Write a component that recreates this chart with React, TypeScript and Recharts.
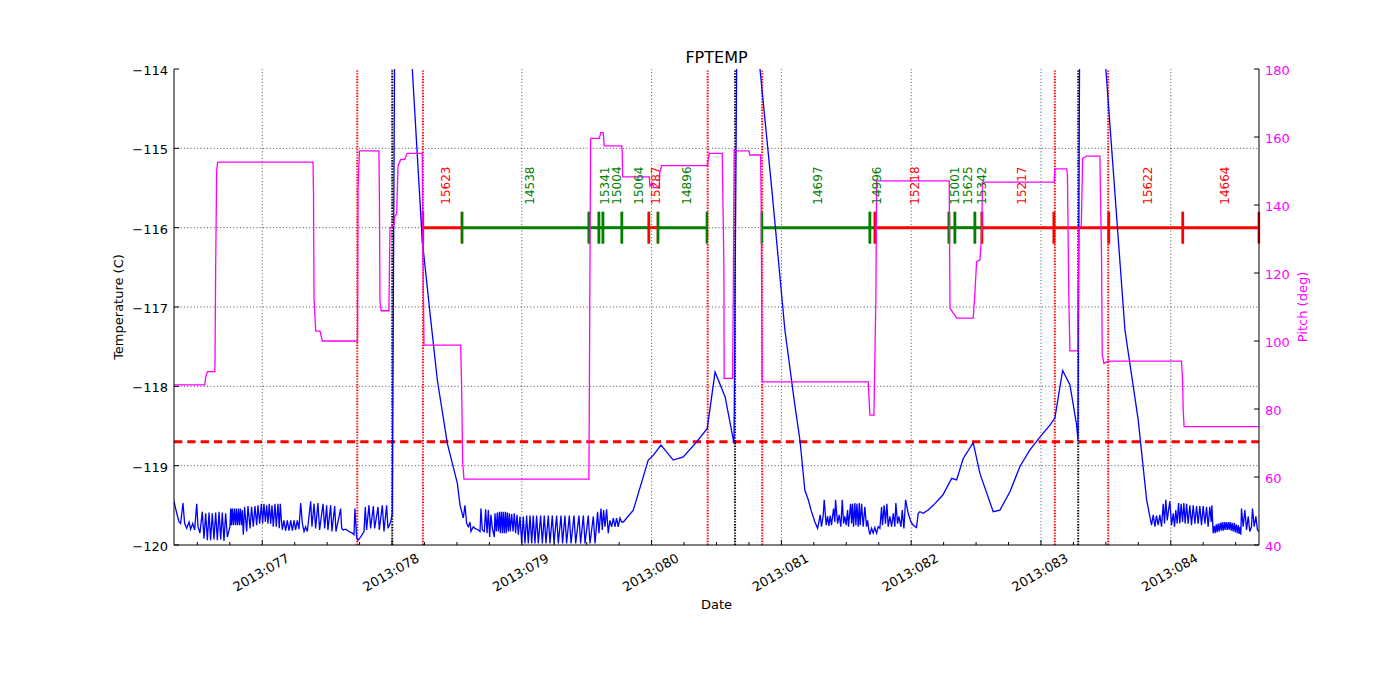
import { ComposedChart, Line, ReferenceLine, Scatter, XAxis, YAxis } from 'recharts';

const FONT = 'DejaVu Sans, sans-serif';
const BLUE = '#0000ff';
const MAGENTA = '#ff00ff';
const RED = '#ff0000';
const GREEN = '#008000';

const DAY_MIN = 76.32;
const DAY_MAX = 84.68;
const dayTicks = [77, 78, 79, 80, 81, 82, 83, 84];
const quarterTicks = [
  76.5, 76.75, 77, 77.25, 77.5, 77.75, 78, 78.25, 78.5, 78.75, 79, 79.25, 79.5, 79.75, 80, 80.25, 80.5,
  80.75, 81, 81.25, 81.5, 81.75, 82, 82.25, 82.5, 82.75, 83, 83.25, 83.5, 83.75, 84, 84.25, 84.5,
];
const tempTicks = [-120, -119, -118, -117, -116, -115, -114];
const pitchTicks = [40, 60, 80, 100, 120, 140, 160, 180];

const TEMP_LIMIT = -118.7;
const BAR_LEVEL = -116;
const BAR_TICK_HALF = 0.2;
const LABEL_BASE = -115.71;

// red dotted = observation boundaries, black dotted = safing events
const redEvents = [77.732, 78.238, 80.432, 80.852, 83.107, 83.518];
const blackEvents = [78.002, 80.643, 83.287];

// [start day, end day, 'r' | 'g']
const obsSegments: [number, number, string][] = [
  [78.238, 78.539, 'r'],
  [78.539, 79.517, 'g'],
  [79.517, 79.594, 'g'],
  [79.594, 79.625, 'g'],
  [79.625, 79.771, 'g'],
  [79.771, 79.979, 'g'],
  [79.979, 80.049, 'r'],
  [80.049, 80.426, 'g'],
  [80.85, 81.682, 'g'],
  [81.682, 81.721, 'g'],
  [81.721, 82.291, 'r'],
  [82.291, 82.337, 'g'],
  [82.337, 82.491, 'g'],
  [82.491, 82.545, 'g'],
  [82.545, 83.1, 'r'],
  [83.1, 83.523, 'r'],
  [83.523, 84.093, 'r'],
  [84.093, 84.679, 'r'],
];

// [label day, obsid, 'r' | 'g']
const obsLabels: [number, string, string][] = [
  [78.416, '15623', 'r'],
  [79.063, '14538', 'g'],
  [79.64, '15341', 'g'],
  [79.733, '15004', 'g'],
  [79.902, '15064', 'g'],
  [80.033, '15287', 'r'],
  [80.272, '14896', 'g'],
  [81.281, '14697', 'g'],
  [81.736, '14996', 'g'],
  [82.029, '15218', 'r'],
  [82.337, '15001', 'g'],
  [82.437, '15625', 'g'],
  [82.543, '15342', 'g'],
  [82.851, '15217', 'r'],
  [83.824, '15622', 'r'],
  [84.417, '14664', 'r'],
];

// FPTEMP [day, degC]
const tempPoints: [number, number][] = [
  [76.32, -119.45], [76.341, -119.6], [76.359, -119.71], [76.371, -119.73], [76.389, -119.47], [76.402, -119.73],
  [76.418, -119.79], [76.436, -119.71], [76.448, -119.8], [76.464, -119.73], [76.479, -119.81], [76.495, -119.48],
  [76.505, -119.77], [76.52, -119.85], [76.538, -119.58], [76.551, -119.92], [76.564, -119.6], [76.577, -119.94],
  [76.59, -119.59], [76.602, -119.94], [76.615, -119.6], [76.628, -119.93], [76.641, -119.59], [76.654, -119.94],
  [76.667, -119.58], [76.68, -119.93], [76.692, -119.59], [76.705, -119.95], [76.718, -119.6], [76.731, -119.9],
  [76.751, -119.77], [76.757, -119.54], [76.762, -119.75], [76.769, -119.54], [76.777, -119.75], [76.785, -119.54],
  [76.793, -119.75], [76.8, -119.54], [76.808, -119.75], [76.816, -119.54], [76.823, -119.75], [76.831, -119.54],
  [76.839, -119.75], [76.846, -119.56], [76.854, -119.87], [76.864, -119.52], [76.88, -119.83], [76.89, -119.51],
  [76.906, -119.79], [76.918, -119.52], [76.931, -119.77], [76.944, -119.51], [76.957, -119.75], [76.967, -119.5],
  [76.98, -119.73], [76.993, -119.48], [77.003, -119.73], [77.013, -119.48], [77.024, -119.71], [77.034, -119.5],
  [77.044, -119.73], [77.054, -119.48], [77.065, -119.73], [77.075, -119.5], [77.085, -119.77], [77.098, -119.48],
  [77.108, -119.77], [77.121, -119.48], [77.131, -119.79], [77.139, -119.48], [77.147, -119.68], [77.155, -119.81],
  [77.167, -119.69], [77.18, -119.82], [77.193, -119.69], [77.206, -119.82], [77.219, -119.69], [77.232, -119.82],
  [77.245, -119.69], [77.257, -119.81], [77.27, -119.69], [77.283, -119.8], [77.296, -119.47], [77.309, -119.73],
  [77.322, -119.83], [77.334, -119.77], [77.347, -119.83], [77.373, -119.45], [77.383, -119.77], [77.399, -119.48],
  [77.411, -119.79], [77.429, -119.47], [77.442, -119.81], [77.468, -119.48], [77.481, -119.79], [77.496, -119.5],
  [77.506, -119.81], [77.527, -119.5], [77.537, -119.83], [77.558, -119.51], [77.568, -119.83], [77.604, -119.54],
  [77.612, -119.79], [77.622, -119.81], [77.643, -119.8], [77.668, -119.83], [77.694, -119.85], [77.707, -119.87],
  [77.714, -119.54], [77.727, -119.9], [77.738, -119.94], [77.758, -119.9], [77.784, -119.83], [77.794, -119.52],
  [77.804, -119.81], [77.822, -119.5], [77.835, -119.79], [77.856, -119.51], [77.866, -119.79], [77.892, -119.52],
  [77.902, -119.81], [77.925, -119.5], [77.938, -119.83], [77.958, -119.5], [77.969, -119.79], [77.989, -119.71],
  // first safe mode spike
  [78.002, -119.6], [78.019, -114.0], [78.09, -112.5], [78.156, -114.0], [78.233, -116.16], [78.298, -117.16],
  [78.349, -117.92], [78.426, -118.72], [78.503, -119.22], [78.524, -119.5], [78.549, -119.66],
  [78.562, -119.5], [78.575, -119.73], [78.588, -119.77], [78.601, -119.71], [78.608, -119.83], [78.626, -119.77],
  [78.639, -119.79], [78.665, -119.81], [78.678, -119.83], [78.685, -119.54], [78.696, -119.81], [78.711, -119.83],
  [78.721, -119.55], [78.732, -119.85], [78.742, -119.56], [78.752, -119.9], [78.762, -119.62], [78.773, -119.79],
  [78.788, -119.9], [78.793, -119.6], [78.803, -119.83], [78.811, -119.59], [78.819, -119.83], [78.827, -119.58],
  [78.834, -119.85], [78.842, -119.58], [78.85, -119.85], [78.857, -119.58], [78.865, -119.85], [78.873, -119.58],
  [78.88, -119.85], [78.888, -119.59], [78.896, -119.83], [78.904, -119.6], [78.911, -119.83], [78.922, -119.61],
  [78.932, -119.83], [78.942, -119.6], [78.952, -119.85], [78.963, -119.62], [78.973, -119.87], [78.986, -119.64],
  [78.999, -119.98], [79.011, -119.64], [79.024, -119.98], [79.037, -119.63], [79.05, -119.98], [79.063, -119.63],
  [79.076, -119.98], [79.088, -119.63], [79.101, -119.98], [79.114, -119.63], [79.127, -119.98], [79.145, -119.63],
  [79.158, -119.98], [79.173, -119.63], [79.186, -119.98], [79.204, -119.63], [79.217, -119.98], [79.235, -119.63],
  [79.248, -119.98], [79.268, -119.63], [79.281, -119.98], [79.302, -119.63], [79.314, -119.98], [79.332, -119.63],
  [79.345, -119.98], [79.366, -119.63], [79.379, -119.98], [79.402, -119.63], [79.415, -119.98], [79.44, -119.63],
  [79.453, -119.98], [79.474, -119.63], [79.487, -119.98], [79.512, -119.63], [79.525, -119.98], [79.551, -119.64],
  [79.564, -119.98], [79.584, -119.58], [79.594, -119.85], [79.61, -119.54], [79.62, -119.81], [79.63, -119.56],
  [79.641, -119.77], [79.653, -119.55], [79.666, -119.85], [79.679, -119.69], [79.692, -119.77], [79.705, -119.66],
  [79.718, -119.77], [79.73, -119.66], [79.743, -119.77], [79.756, -119.66], [79.769, -119.71], [79.782, -119.71],
  [79.859, -119.56], [79.974, -118.93], [80.013, -118.87], [80.072, -118.74], [80.167, -118.93], [80.244, -118.89],
  [80.347, -118.7], [80.429, -118.53], [80.489, -117.82], [80.566, -118.13], [80.635, -118.72],
  // second safe mode spike
  [80.655, -114.0], [80.75, -112.5], [80.835, -114.0], [80.927, -115.53], [81.027, -117.29], [81.104, -118.24],
  [81.143, -118.68], [81.181, -119.31], [81.207, -119.43], [81.232, -119.58], [81.258, -119.71], [81.279, -119.79],
  [81.289, -119.71], [81.299, -119.62], [81.309, -119.77], [81.322, -119.63], [81.33, -119.43], [81.345, -119.75],
  [81.356, -119.64], [81.366, -119.76], [81.376, -119.63], [81.386, -119.75], [81.402, -119.54], [81.412, -119.71],
  [81.417, -119.43], [81.433, -119.73], [81.445, -119.62], [81.458, -119.77], [81.469, -119.43], [81.479, -119.73],
  [81.489, -119.64], [81.499, -119.75], [81.51, -119.56], [81.517, -119.77], [81.533, -119.48], [81.541, -119.73],
  [81.548, -119.48], [81.556, -119.77], [81.566, -119.47], [81.574, -119.75], [81.582, -119.48], [81.592, -119.77],
  [81.6, -119.47], [81.607, -119.75], [81.618, -119.48], [81.63, -119.77], [81.643, -119.52], [81.656, -119.77],
  [81.664, -119.69], [81.674, -119.81], [81.682, -119.87], [81.695, -119.79], [81.707, -119.85], [81.72, -119.78],
  [81.733, -119.85], [81.746, -119.77], [81.759, -119.79], [81.772, -119.52], [81.779, -119.75], [81.792, -119.5],
  [81.802, -119.73], [81.813, -119.48], [81.823, -119.77], [81.836, -119.64], [81.849, -119.77], [81.862, -119.6],
  [81.874, -119.77], [81.882, -119.47], [81.895, -119.73], [81.905, -119.64], [81.921, -119.77], [81.931, -119.56],
  [81.944, -119.79], [81.957, -119.43], [81.977, -119.6], [81.998, -119.71], [82.016, -119.75], [82.041, -119.78],
  [82.054, -119.6], [82.067, -119.58], [82.093, -119.6], [82.131, -119.56], [82.17, -119.5], [82.244, -119.37],
  [82.312, -119.16], [82.35, -119.18], [82.401, -118.91], [82.478, -118.71], [82.53, -119.1], [82.632, -119.58],
  [82.684, -119.56], [82.761, -119.33], [82.838, -119.01], [82.915, -118.8], [82.992, -118.64], [83.069, -118.49],
  [83.107, -118.4], [83.167, -117.8], [83.223, -117.98], [83.275, -118.49], [83.285, -118.68],
  // third safe mode spike
  [83.297, -114.0], [83.4, -112.5], [83.5, -114.0], [83.647, -117.29], [83.749, -118.42], [83.814, -119.43],
  [83.852, -119.75], [83.865, -119.62], [83.878, -119.77], [83.89, -119.63], [83.903, -119.75],
  [83.916, -119.62], [83.929, -119.77], [83.942, -119.48], [83.952, -119.73], [83.962, -119.43], [83.973, -119.69],
  [83.983, -119.56], [83.993, -119.45], [84.006, -119.75], [84.019, -119.6], [84.029, -119.77], [84.039, -119.56],
  [84.05, -119.73], [84.06, -119.47], [84.07, -119.73], [84.08, -119.48], [84.091, -119.71], [84.101, -119.47],
  [84.111, -119.73], [84.122, -119.48], [84.134, -119.73], [84.147, -119.5], [84.16, -119.75], [84.173, -119.5],
  [84.186, -119.73], [84.199, -119.51], [84.211, -119.73], [84.224, -119.51], [84.237, -119.75], [84.25, -119.51],
  [84.263, -119.73], [84.276, -119.52], [84.288, -119.77], [84.301, -119.52], [84.312, -119.71], [84.317, -119.5],
  [84.327, -119.85], [84.335, -119.76], [84.342, -119.85], [84.35, -119.74], [84.358, -119.84], [84.365, -119.73],
  [84.373, -119.83], [84.381, -119.72], [84.389, -119.82], [84.396, -119.71], [84.404, -119.82], [84.412, -119.71],
  [84.419, -119.81], [84.427, -119.71], [84.435, -119.81], [84.443, -119.71], [84.45, -119.81], [84.458, -119.71],
  [84.466, -119.82], [84.473, -119.72], [84.481, -119.83], [84.489, -119.72], [84.496, -119.84], [84.504, -119.74],
  [84.512, -119.85], [84.52, -119.75], [84.527, -119.86], [84.535, -119.77], [84.54, -119.87], [84.545, -119.54],
  [84.558, -119.77], [84.571, -119.56], [84.584, -119.81], [84.597, -119.64], [84.609, -119.83], [84.622, -119.77],
  [84.63, -119.54], [84.643, -119.77], [84.656, -119.64], [84.668, -119.81], [84.681, -119.83],
];

// Pitch [day, deg]
const pitchPoints: [number, number][] = [
  [76.32, 87.1], [76.557, 87.1], [76.563, 89.1], [76.577, 91.0], [76.634, 91.0], [76.636, 93.5], [76.641, 121.9],
  [76.649, 150.3], [76.657, 152.6], [77.391, 152.6], [77.395, 143.4], [77.399, 112.6], [77.412, 102.9],
  [77.445, 102.9], [77.463, 100.0], [77.734, 100.0], [77.738, 145.0], [77.749, 155.9], [77.899, 155.9],
  [77.903, 141.0], [77.907, 111.6], [77.917, 108.9], [77.976, 108.9], [77.984, 133.2], [78.015, 134.1],
  [78.02, 136.6], [78.036, 137.4], [78.046, 151.5], [78.067, 153.4], [78.097, 153.4], [78.117, 155.2],
  [78.233, 155.2], [78.238, 126.8], [78.246, 98.8], [78.529, 98.8], [78.537, 84.6], [78.544, 64.5], [78.554, 59.4],
  [79.517, 59.4], [79.53, 159.6], [79.596, 159.6], [79.602, 160.3], [79.609, 161.3], [79.627, 161.3],
  [79.635, 157.4], [79.769, 157.4], [79.773, 156.2], [79.777, 148.3], [79.982, 148.3], [79.987, 145.6],
  [80.003, 146.5], [80.018, 145.1], [80.059, 145.1], [80.062, 149.3], [80.077, 151.6], [80.429, 151.6],
  [80.444, 155.2], [80.544, 155.2], [80.557, 121.9], [80.559, 89.0], [80.624, 89.0], [80.629, 112.1],
  [80.636, 156.2], [80.655, 155.9], [80.75, 155.9], [80.757, 154.7], [80.84, 154.7], [80.844, 141.0],
  [80.852, 88.0], [81.669, 88.0], [81.674, 84.1], [81.682, 78.2], [81.713, 78.2], [81.728, 112.7],
  [81.734, 147.1], [82.293, 147.1], [82.299, 109.6], [82.312, 108.9], [82.35, 106.7], [82.478, 106.7],
  [82.491, 114.0], [82.504, 123.3], [82.53, 123.8], [82.543, 131.2], [82.55, 146.7], [83.102, 146.7],
  [83.107, 150.6], [83.198, 150.6], [83.204, 148.8], [83.215, 112.1], [83.223, 97.1], [83.282, 97.1],
  [83.292, 133.2], [83.311, 134.1], [83.321, 153.7], [83.352, 154.4], [83.454, 154.4], [83.467, 124.0],
  [83.472, 95.9], [83.485, 93.4], [83.518, 94.1], [84.083, 94.1], [84.091, 88.5], [84.096, 79.7],
  [84.103, 74.8], [84.679, 74.8],
];

const tempRows = tempPoints.map(([t, v]) => ({ t, v }));
const pitchRows = pitchPoints.map(([t, v]) => ({ t, v }));
const labelRows = obsLabels.map(([t, name, c]) => ({ t, y: LABEL_BASE, name, color: c === 'r' ? RED : GREEN }));

const isWholeDay = (v: number) => Math.abs(v - Math.round(v)) < 1e-6;
const minus = (v: number) => (v < 0 ? `\u2212${Math.abs(v)}` : `${v}`);

function BottomTick(props: any) {
  const { x, y, payload } = props;
  const major = isWholeDay(payload.value);
  const cy = y + 27.5;
  return (
    <g>
      <line x1={x} x2={x} y1={y} y2={y - (major ? 5 : 3)} stroke="#000" strokeWidth={1} />
      {major && (
        <text
          x={x - 1}
          y={cy}
          textAnchor="middle"
          dominantBaseline="central"
          transform={`rotate(-30, ${x - 1}, ${cy})`}
          fontSize={13}
          fontFamily={FONT}
          fill="#000"
        >
          {`2013:${String(Math.round(payload.value)).padStart(3, '0')}`}
        </text>
      )}
    </g>
  );
}

function TopTick(props: any) {
  const { x, y, payload } = props;
  const major = isWholeDay(payload.value);
  return <line x1={x} x2={x} y1={y} y2={y + (major ? 5 : 3)} stroke="#000" strokeWidth={1} />;
}

function LeftTick(props: any) {
  const { x, y, payload } = props;
  return (
    <g>
      <line x1={x} x2={x + 5} y1={y} y2={y} stroke="#000" strokeWidth={1} />
      <text x={x - 6} y={y + 6} textAnchor="end" fontSize={13} fontFamily={FONT} fill="#000">
        {minus(payload.value)}
      </text>
    </g>
  );
}

function RightTick(props: any) {
  const { x, y, payload } = props;
  return (
    <g>
      <line x1={x} x2={x - 5} y1={y} y2={y} stroke="#000" strokeWidth={1} />
      <text x={x + 6} y={y + 6} textAnchor="start" fontSize={13} fontFamily={FONT} fill={MAGENTA}>
        {payload.value}
      </text>
    </g>
  );
}

function ObsLabel(props: any) {
  const { cx, cy, payload } = props;
  return (
    <text
      x={cx}
      y={cy}
      textAnchor="start"
      dominantBaseline="central"
      transform={`rotate(-90, ${cx}, ${cy})`}
      fontSize={12}
      fontFamily={FONT}
      fill={payload.color}
    >
      {payload.name}
    </text>
  );
}

export default function App() {
  return (
    <div style={{ position: 'absolute', left: 0, top: 0, width: 1400, height: 700, background: '#fff' }}>
      <ComposedChart width={1400} height={700} margin={{ top: 69, right: 0, bottom: 0, left: 0 }}>
        <XAxis
          dataKey="t"
          type="number"
          domain={[DAY_MIN, DAY_MAX]}
          allowDataOverflow
          ticks={quarterTicks}
          interval={0}
          height={155}
          tickSize={0}
          tickMargin={0}
          tickLine={false}
          axisLine={{ stroke: '#000', strokeWidth: 1 }}
          tick={BottomTick}
        />
        <XAxis
          xAxisId="top"
          orientation="top"
          dataKey="t"
          type="number"
          domain={[DAY_MIN, DAY_MAX]}
          allowDataOverflow
          ticks={quarterTicks}
          interval={0}
          height={0}
          tickSize={0}
          tickMargin={0}
          tickLine={false}
          axisLine={{ stroke: '#000', strokeWidth: 1 }}
          tick={TopTick}
        />
        <YAxis
          yAxisId="temp"
          type="number"
          domain={[-120, -114]}
          allowDataOverflow
          ticks={tempTicks}
          interval={0}
          width={174}
          tickSize={0}
          tickMargin={0}
          tickLine={false}
          axisLine={{ stroke: '#000', strokeWidth: 1 }}
          tick={LeftTick}
        />
        <YAxis
          yAxisId="pitch"
          orientation="right"
          type="number"
          domain={[40, 180]}
          allowDataOverflow
          ticks={pitchTicks}
          interval={0}
          width={141}
          tickSize={0}
          tickMargin={0}
          tickLine={false}
          axisLine={{ stroke: '#000', strokeWidth: 1 }}
          tick={RightTick}
        />

        {dayTicks.map((d) => (
          <ReferenceLine key={`gx${d}`} x={d} yAxisId="temp" stroke="#000" strokeWidth={0.7} strokeDasharray="1 2.3" />
        ))}
        {tempTicks.slice(1, -1).map((v) => (
          <ReferenceLine key={`gy${v}`} y={v} yAxisId="temp" stroke="#000" strokeWidth={0.7} strokeDasharray="1 2.3" />
        ))}

        <ReferenceLine y={TEMP_LIMIT} yAxisId="temp" stroke={RED} strokeWidth={3} strokeDasharray="8.3 5" />
        {redEvents.map((d) => (
          <ReferenceLine key={`re${d}`} x={d} yAxisId="temp" stroke={RED} strokeWidth={2} strokeDasharray="1.4 1.4" />
        ))}
        {blackEvents.map((d) => (
          <ReferenceLine key={`be${d}`} x={d} yAxisId="temp" stroke="#000" strokeWidth={2} strokeDasharray="1.4 1.4" />
        ))}

        {obsSegments.map(([a, b, c]) => (
          <ReferenceLine
            key={`seg${a}`}
            yAxisId="temp"
            segment={[{ x: a, y: BAR_LEVEL }, { x: b, y: BAR_LEVEL }]}
            stroke={c === 'r' ? RED : GREEN}
            strokeWidth={3}
          />
        ))}
        {obsSegments.flatMap(([a, b, c]) =>
          [a, b].map((d, i) => (
            <ReferenceLine
              key={`tk${a}-${i}`}
              yAxisId="temp"
              segment={[{ x: d, y: BAR_LEVEL - BAR_TICK_HALF }, { x: d, y: BAR_LEVEL + BAR_TICK_HALF }]}
              stroke={c === 'r' ? RED : GREEN}
              strokeWidth={2.5}
            />
          ))
        )}

        <Scatter yAxisId="temp" data={labelRows} dataKey="y" shape={ObsLabel} isAnimationActive={false} />

        <Line
          yAxisId="temp"
          data={tempRows}
          dataKey="v"
          type="linear"
          stroke={BLUE}
          strokeWidth={1.3}
          dot={false}
          activeDot={false}
          isAnimationActive={false}
        />
        <Line
          yAxisId="pitch"
          data={pitchRows}
          dataKey="v"
          type="linear"
          stroke={MAGENTA}
          strokeWidth={1.3}
          dot={false}
          activeDot={false}
          isAnimationActive={false}
        />
      </ComposedChart>

      <svg
        width={1400}
        height={700}
        style={{ position: 'absolute', left: 0, top: 0, pointerEvents: 'none' }}
        fontFamily={FONT}
      >
        <text x={716.5} y={63} textAnchor="middle" fontSize={16} fill="#000">
          FPTEMP
        </text>
        <text x={716.5} y={609} textAnchor="middle" fontSize={13} fill="#000">
          Date
        </text>
        <text x={123} y={307} textAnchor="middle" fontSize={13} fill="#000" transform="rotate(-90, 123, 307)">
          Temperature (C)
        </text>
        <text x={1307} y={307} textAnchor="middle" fontSize={13} fill={MAGENTA} transform="rotate(-90, 1307, 307)">
          Pitch (deg)
        </text>
      </svg>
    </div>
  );
}
